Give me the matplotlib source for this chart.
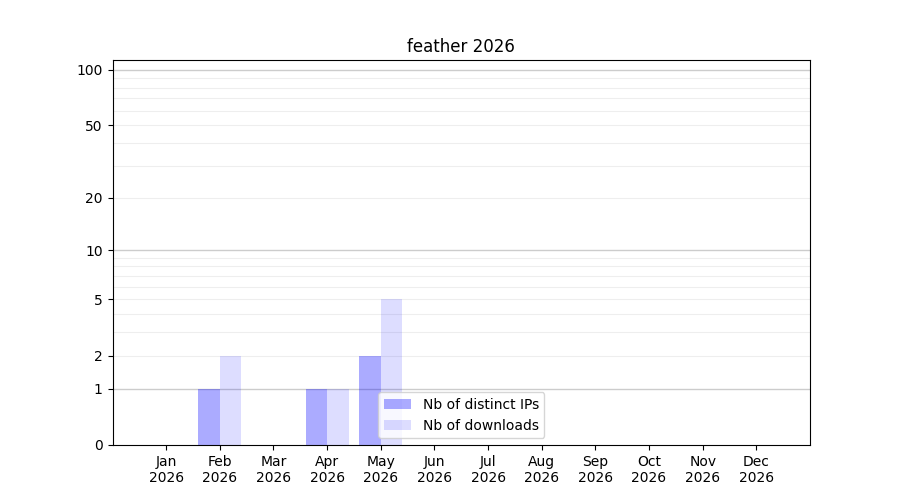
from matplotlib import pyplot as plt
from matplotlib.ticker import NullLocator
import numpy as np

months = ['Jan', 'Feb', 'Mar', 'Apr', 'May', 'Jun', 'Jul', 'Aug', 'Sep', 'Oct', 'Nov', 'Dec']
year = '2026'
distinct_ips = [0, 1, 0, 1, 2, 0, 0, 0, 0, 0, 0, 0]
downloads = [0, 2, 0, 1, 5, 0, 0, 0, 0, 0, 0, 0]
ytick_values = [0, 1, 2, 5, 10, 20, 50, 100]

fig, ax = plt.subplots(figsize=(9, 5), dpi=100)

x = np.arange(len(months))
ax.bar(x - 0.2, distinct_ips, width=0.4, color='blue', alpha=0.33, label='Nb of distinct IPs', zorder=2)
ax.bar(x + 0.2, downloads, width=0.4, color='blue', alpha=0.135, label='Nb of downloads', zorder=2)

ax.set_yscale('function', functions=(lambda v: np.log10(1 + np.maximum(v, 0)),
                                     lambda v: 10 ** v - 1))
ax.set_ylim(0, 113)
ax.set_xlim(-1, 12)

ax.set_yticks(ytick_values)
ax.set_yticklabels([str(v) for v in ytick_values])
ax.yaxis.set_minor_locator(NullLocator())

# darker lines at decades, light lines elsewhere
for v in [1, 10, 100]:
    ax.axhline(v, color='#cccccc', linewidth=1, zorder=1)
for v in [2, 3, 4, 5, 6, 7, 8, 9, 20, 30, 40, 50, 60, 70, 80, 90]:
    ax.axhline(v, color='#eeeeee', linewidth=0.8, zorder=1)

ax.set_xticks(x)
ax.set_xticklabels([f'{m}\n{year}' for m in months])

ax.set_title('feather 2026')
ax.legend(loc='lower center')

plt.savefig('out.png')
